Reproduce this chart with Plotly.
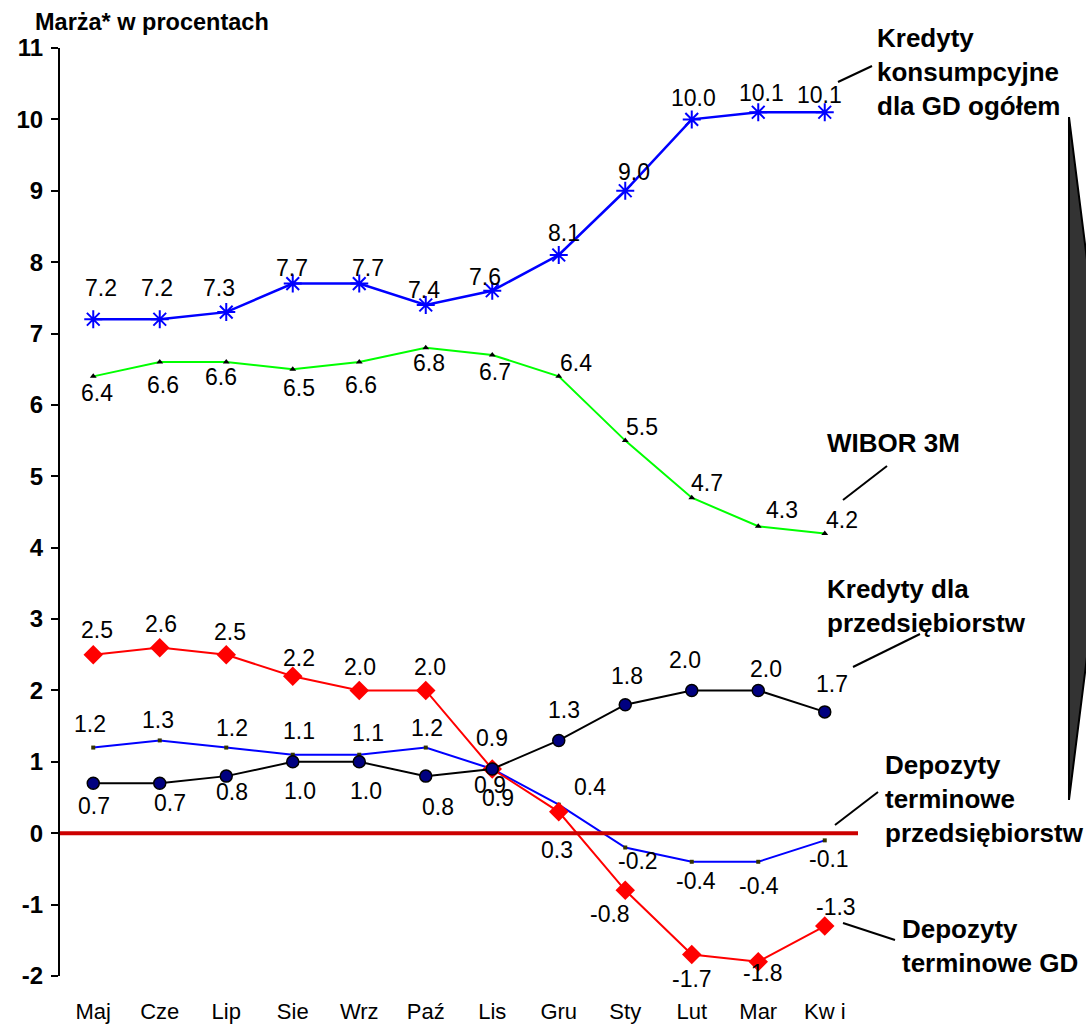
import plotly.graph_objects as go

# ---------------- data ----------------
months = ["Maj", "Cze", "Lip", "Sie", "Wrz", "Paź", "Lis", "Gru", "Sty", "Lut", "Mar", "Kw i"]
kred_kons = [7.2, 7.2, 7.3, 7.7, 7.7, 7.4, 7.6, 8.1, 9.0, 10.0, 10.1, 10.1]
wibor_3m = [6.4, 6.6, 6.6, 6.5, 6.6, 6.8, 6.7, 6.4, 5.5, 4.7, 4.3, 4.2]
kred_przeds = [0.7, 0.7, 0.8, 1.0, 1.0, 0.8, 0.9, 1.3, 1.8, 2.0, 2.0, 1.7]
dep_przeds = [1.2, 1.3, 1.2, 1.1, 1.1, 1.2, 0.9, 0.4, -0.2, -0.4, -0.4, -0.1]
dep_gd = [2.5, 2.6, 2.5, 2.2, 2.0, 2.0, 0.9, 0.3, -0.8, -1.7, -1.8, -1.3]
y_ticks = list(range(-2, 12))
y_tick_labels = [str(v) for v in y_ticks]

# ---------------- label offsets (px: dx right, dy down) ----------------
off_kons = [(8, -31), (-3, -31), (-7, -24), (-1, -16), (9, -16), (-2, -15), (-7, -14),
            (5, -22), (9, -19), (2, -21), (3, -19), (-5, -17)]
off_wibor = [(4, 17), (3, 23), (-5, 15), (6, 19), (2, 23), (3, 15), (3, 17),
             (17, -13), (17, -14), (15, -15), (24, -16), (17, -13)]
off_gd = [(4, -25), (1, -24), (4, -23), (6, -18), (1, -23), (4, -23), (6, 29),
          (-2, 38), (-15, 24), (0, 24), (5, 11), (11, -19)]
off_kp = [(1, 23), (10, 20), (6, 16), (7, 29), (7, 29), (12, 31), (0, -31),
          (5, -30), (2, -29), (-7, -30), (8, -21), (7, -28)]
off_dp = [(-3, -24), (-2, -20), (6, -20), (6, -24), (9, -22), (1, -20), (-2, 16),
          (31, -18), (13, 13), (4, 19), (1, 24), (4, 19)]

FONT = "Liberation Sans, Arial, sans-serif"
W, H = 1086, 1024
ML, MR, MT, MB = 60, 228, 48, 48
PW, PH = W - ML - MR, H - MT - MB


def px2x(px):
    # page pixel -> paper coordinate
    return (px - ML) / PW


def px2y(py):
    return (H - MB - py) / PH


fig = go.Figure()

fig.add_trace(go.Scatter(
    x=months, y=dep_przeds, mode="lines+markers",
    line=dict(color="#0000FF", width=2),
    marker=dict(symbol="square", size=4, color="#333300"),
))
fig.add_trace(go.Scatter(
    x=months, y=dep_gd, mode="lines+markers",
    line=dict(color="#FF0000", width=2),
    marker=dict(symbol="diamond", size=15, color="#FF0000"),
))
fig.add_trace(go.Scatter(
    x=months, y=kred_przeds, mode="lines+markers",
    line=dict(color="#000000", width=2),
    marker=dict(symbol="circle", size=12, color="#000080",
                line=dict(color="#000000", width=1.5)),
))
fig.add_trace(go.Scatter(
    x=months, y=wibor_3m, mode="lines+markers",
    line=dict(color="#00FF00", width=2),
    marker=dict(symbol="triangle-up", size=6, color="#000000"),
))
fig.add_trace(go.Scatter(
    x=months, y=kred_kons, mode="lines+markers",
    line=dict(color="#0000FF", width=2.5),
    marker=dict(symbol="asterisk-open", size=15, color="#0000FF",
                line=dict(color="#0000FF", width=2)),
))

annotations = []
for vals, offs in [(kred_kons, off_kons), (wibor_3m, off_wibor), (dep_gd, off_gd),
                   (kred_przeds, off_kp), (dep_przeds, off_dp)]:
    for m, v, (dx, dy) in zip(months, vals, offs):
        annotations.append(dict(
            x=m, y=v, xref="x", yref="y", text=f"{v:.1f}", showarrow=False,
            xanchor="center", yanchor="middle", xshift=dx, yshift=-dy,
            font=dict(family=FONT, size=23, color="#000000"),
        ))

# Title
annotations.append(dict(
    x=px2x(33), y=px2y(22), xref="paper", yref="paper", text="Marża* w procentach",
    showarrow=False, xanchor="left", yanchor="middle",
    font=dict(family=FONT, size=23.5, color="#000000", weight="bold"),
))

# Series names
series_labels = [
    ("Kredyty<br>konsumpcyjne<br>dla GD ogółem", 875, 21),
    ("WIBOR 3M", 825, 426),
    ("Kredyty dla<br>przedsiębiorstw", 825, 572),
    ("Depozyty<br>terminowe<br>przedsiębiorstw", 883, 748),
    ("Depozyty<br>terminowe GD", 900, 912),
]
for txt, lx, ty in series_labels:
    annotations.append(dict(
        x=px2x(lx), y=px2y(ty), xref="paper", yref="paper", text=txt,
        showarrow=False, xanchor="left", yanchor="top", align="left",
        font=dict(family=FONT, size=26, color="#000000", weight="bold"),
    ))

shapes = [
    dict(type="line", xref="paper", yref="y", x0=0, x1=1, y0=0, y1=0,
         line=dict(color="#CC0000", width=4), layer="above"),
]
connectors = [((838, 82), (872, 66)), ((843, 500), (887, 466)), ((853, 667), (920, 634)),
              ((835, 825), (878, 792)), ((843, 923), (895, 940))]
for (x0, y0), (x1, y1) in connectors:
    shapes.append(dict(type="line", xref="paper", yref="paper",
                       x0=px2x(x0), y0=px2y(y0), x1=px2x(x1), y1=px2y(y1),
                       line=dict(color="#000000", width=2)))
tri = [(1069, 117), (1112, 458), (1069, 800)]
path = "M " + " L ".join(f"{px2x(a):.4f},{px2y(b):.4f}" for a, b in tri) + " Z"
shapes.append(dict(type="path", xref="paper", yref="paper", path=path,
                   fillcolor="#333333", line=dict(color="#000000", width=2)))

fig.update_layout(
    width=W, height=H,
    margin=dict(l=ML, r=MR, t=MT, b=MB, autoexpand=False),
    paper_bgcolor="white", plot_bgcolor="white",
    showlegend=False,
    annotations=annotations,
    shapes=shapes,
    xaxis=dict(
        type="category", range=[-0.5, 11.5], showgrid=False, zeroline=False,
        showline=False, ticks="", ticklabelstandoff=20, automargin=False,
        tickfont=dict(family=FONT, size=22, color="#000000"),
    ),
    yaxis=dict(
        range=[-2, 11], tickvals=y_ticks, ticktext=y_tick_labels,
        showgrid=False, zeroline=False,
        showline=True, linecolor="#000000", linewidth=2, automargin=False,
        ticks="outside", ticklen=7, tickwidth=2, tickcolor="#000000",
        ticklabelstandoff=3,
        tickfont=dict(family=FONT, size=24, color="#000000", weight="bold"),
    ),
)

fig.write_html(
    "out.html",
    config={"displayModeBar": False},
    post_script="document.body.style.margin='0';document.body.style.overflow='hidden';",
)
